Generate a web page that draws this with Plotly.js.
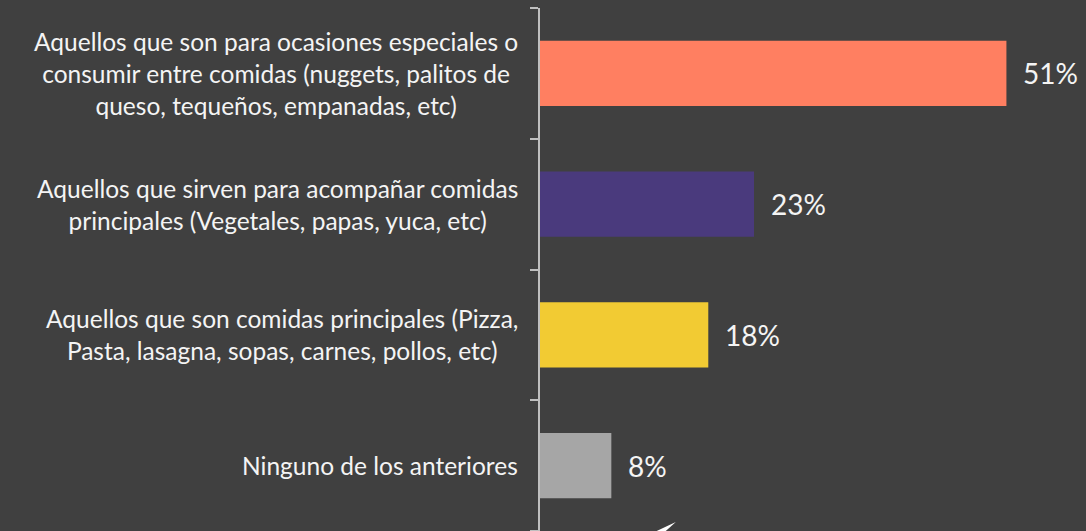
<!DOCTYPE html>
<html>
<head>
<meta charset="utf-8">
<script src="https://cdn.plot.ly/plotly-3.0.1.min.js"></script>
<style>html,body{margin:0;padding:0;background:#404040;}#chart{width:1086px;height:531px;}</style>
</head>
<body>
<div id="chart"></div>
<script>
const categories = [
  "Aquellos que son para ocasiones especiales o<br>consumir entre comidas (nuggets, palitos de<br>queso, tequeños, empanadas, etc)",
  "Aquellos que sirven para acompañar comidas<br>principales (Vegetales, papas, yuca, etc)",
  "Aquellos que son comidas principales (Pizza,<br>Pasta, lasagna, sopas, carnes, pollos, etc)",
  "Ninguno de los anteriores"
];
const values = [51, 23.4, 18.4, 7.8];
const valueLabels = ["51%", "23%", "18%", "8%"];
const barColors = ["#FF7F61", "#4A3A7D", "#F2CB33", "#A6A6A6"];

const trace = {
  type: "bar",
  orientation: "h",
  x: values,
  y: categories,
  marker: {color: barColors, line: {width: 0}},
  hoverinfo: "none"
};

const annotations = [];
categories.forEach((c, i) => {
  annotations.push({
    xref: "paper", yref: "y", x: 0, y: c, xanchor: "right", yanchor: "middle",
    xshift: -20, align: "center", showarrow: false, text: c,
    font: {family: "Lato, 'Open Sans', sans-serif", size: 24.5, color: "#f4f4f4"}
  });
  annotations.push({
    xref: "x", yref: "y", x: values[i], y: c, xanchor: "left", yanchor: "middle",
    xshift: 15, showarrow: false, text: valueLabels[i],
    font: {family: "Lato, 'Open Sans', sans-serif", size: 28, color: "#f4f4f4"}
  });
});

const layout = {
  width: 1086, height: 531,
  paper_bgcolor: "#404040", plot_bgcolor: "#404040",
  margin: {l: 540, r: 43, t: 8, b: 0},
  bargap: 0.5,
  showlegend: false,
  xaxis: {range: [0, 55], visible: false, fixedrange: true},
  yaxis: {
    type: "category", categoryorder: "array", categoryarray: categories.slice().reverse(),
    showline: true, linecolor: "#bfbfbf", linewidth: 2,
    ticks: "outside", tickson: "boundaries", ticklen: 8, tickwidth: 2, tickcolor: "#bfbfbf",
    showticklabels: false, showgrid: false, zeroline: false, fixedrange: true
  },
  annotations: annotations,
  shapes: [{
    type: "path", xref: "paper", yref: "paper",
    path: "M 0.232 0 L 0.27 0.017 L 0.25 0 Z",
    fillcolor: "#ffffff", line: {width: 0}
  }]
};

Plotly.newPlot("chart", [trace], layout, {displayModeBar: false, staticPlot: true});
</script>
</body>
</html>
